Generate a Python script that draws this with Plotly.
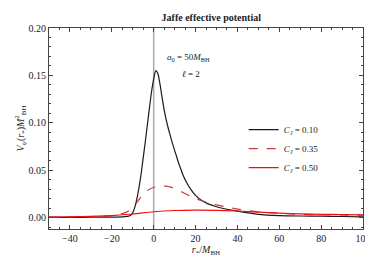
import plotly.graph_objects as go

# C_J = 0.10 (black)
r_a = [-50, -40, -30, -20, -15, -12, -11, -10, -9, -8, -7, -6, -5, -4, -3, -2, -1, 0, 1, 2, 3, 4, 5, 6, 7, 8, 9, 10, 11, 12, 13, 14, 16, 18, 20, 23, 26, 30, 35, 40, 50, 60, 70, 80, 90, 100]
v_a = [0.0002, 0.0003, 0.0004, 0.0006, 0.0008, 0.0015, 0.0025, 0.005, 0.011, 0.020, 0.032, 0.046, 0.063, 0.080, 0.098, 0.116, 0.133, 0.146, 0.155, 0.152, 0.141, 0.127, 0.114, 0.103, 0.094, 0.086, 0.078, 0.071, 0.064, 0.057, 0.051, 0.045, 0.036, 0.029, 0.0235, 0.018, 0.0145, 0.0115, 0.0088, 0.0068, 0.0035, 0.0022, 0.0017, 0.0015, 0.0012, 0.0008]

# C_J = 0.35 (dashed red)
r_b = [-50, -40, -30, -20, -16, -12, -8, -6, -4, -2, 0, 2, 4, 6, 8, 11, 14, 17, 20, 23, 27, 30, 34, 40, 45, 53, 60, 68, 76, 84, 92, 100]
v_b = [0.0005, 0.0008, 0.0012, 0.0022, 0.0035, 0.007, 0.016, 0.022, 0.027, 0.030, 0.0318, 0.0330, 0.0335, 0.0332, 0.0322, 0.0298, 0.0265, 0.0232, 0.0203, 0.0178, 0.0152, 0.0135, 0.0115, 0.0090, 0.0073, 0.0055, 0.0045, 0.0037, 0.0032, 0.0029, 0.0027, 0.0026]

# C_J = 0.50 (solid red)
r_c = [-50, -40, -30, -20, -10, 0, 10, 20, 30, 40, 50, 60, 70, 80, 90, 100]
v_c = [0.0006, 0.0009, 0.0014, 0.0022, 0.0038, 0.0062, 0.0075, 0.0079, 0.0077, 0.0070, 0.0058, 0.0047, 0.0040, 0.0035, 0.0032, 0.0030]

labels = ["<i>C<sub>J</sub></i> = 0.10", "<i>C<sub>J</sub></i> = 0.35", "<i>C<sub>J</sub></i> = 0.50"]

font = "Liberation Serif, DejaVu Serif, serif"

fig = go.Figure()
fig.add_trace(go.Scatter(x=r_a, y=v_a, mode="lines", name=labels[0],
                         line=dict(color="#1a1a1a", width=1.2, shape="spline", smoothing=0.6)))
fig.add_trace(go.Scatter(x=r_b, y=v_b, mode="lines", name=labels[1],
                         line=dict(color="#cc3b3b", width=1.2, dash="dash", shape="spline", smoothing=0.8)))
fig.add_trace(go.Scatter(x=r_c, y=v_c, mode="lines", name=labels[2],
                         line=dict(color="#ee1111", width=1.2, shape="spline", smoothing=0.8)))

fig.add_shape(type="line", x0=0, x1=0, y0=0, y1=1, xref="x", yref="paper",
              line=dict(color="#aaaaaa", width=1.5), layer="below")

fig.add_annotation(x=16.7, y=0.169, text="<i>a</i><sub>0</sub> = 50<i>M</i><sub>BH</sub>",
                   showarrow=False, font=dict(family=font, size=9, color="#222"))
fig.add_annotation(x=17.6, y=0.151, text="<i>ℓ</i> = 2",
                   showarrow=False, font=dict(family=font, size=9, color="#222"))

axis_common = dict(showgrid=False, zeroline=False, showline=True, linecolor="#444",
                   linewidth=1, mirror="allticks", ticks="inside", ticklen=4,
                   tickcolor="#444", tickfont=dict(family=font, size=10, color="#222"))

fig.update_xaxes(range=[-50, 100], tick0=-40, dtick=20,
                 minor=dict(dtick=5, ticks="inside", ticklen=2, tickcolor="#444"),
                 title=dict(text="<i>r</i><sub>*</sub>/<i>M</i><sub>BH</sub>",
                            font=dict(family=font, size=10, color="#222"), standoff=2),
                 **axis_common)
fig.update_yaxes(range=[-0.012, 0.2], tick0=0, dtick=0.05, tickformat=".2f",
                 minor=dict(dtick=0.01, ticks="inside", ticklen=2, tickcolor="#444"),
                 title=dict(text="<i>V</i><sub>ψ</sub>(<i>r</i><sub>*</sub>)<i>M</i><sup>2</sup><sub>BH</sub>",
                            font=dict(family=font, size=10, color="#222"), standoff=2),
                 **axis_common)

fig.update_layout(
    width=373, height=257,
    margin=dict(l=41, r=10, t=20, b=36),
    paper_bgcolor="white", plot_bgcolor="white",
    title=dict(text="<b>Jaffe effective potential</b>", x=0.545, xanchor="center",
               y=0.975, yanchor="top", font=dict(family=font, size=10, color="#222")),
    legend=dict(x=0.62, y=0.40, xanchor="left", yanchor="middle",
                bgcolor="rgba(0,0,0,0)", font=dict(family=font, size=9, color="#222"),
                tracegroupgap=0, itemwidth=30),
    showlegend=True,
)

fig.write_html("out.html")
